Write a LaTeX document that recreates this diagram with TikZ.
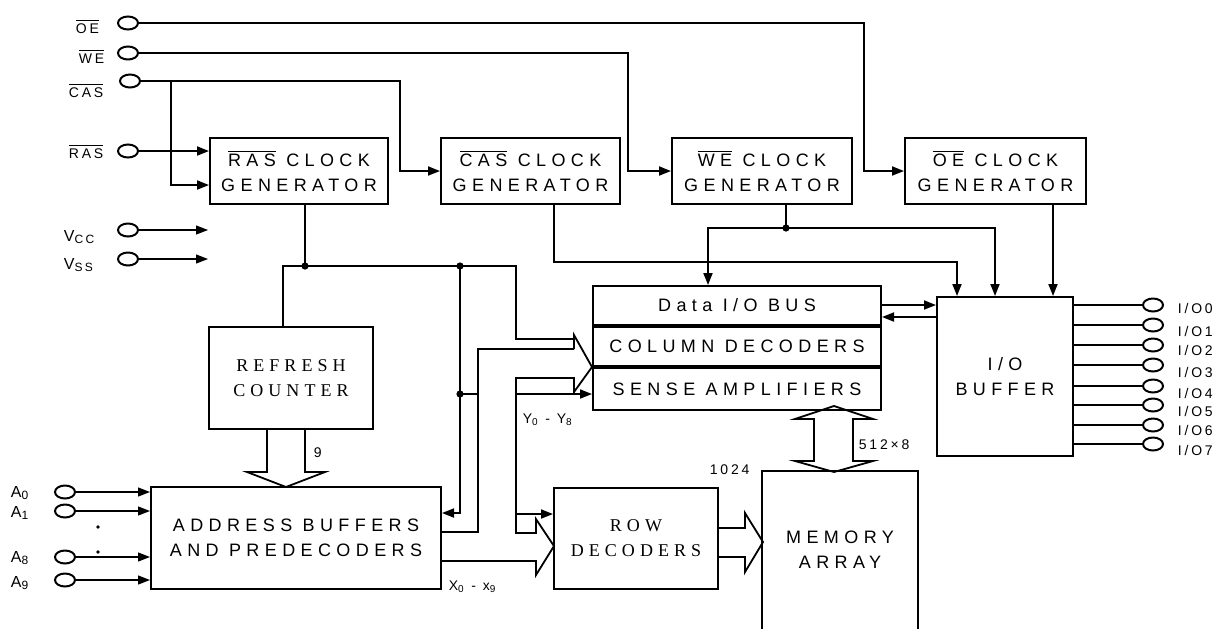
\documentclass[tikz,border=0pt]{standalone}
\usepackage{fontspec}
\setmainfont{Liberation Sans}
\newfontfamily\wide{Liberation Sans}[LetterSpace=30]
\newfontfamily\narrow{Liberation Sans}[LetterSpace=20]
\newfontfamily\wideserif{Liberation Serif}[LetterSpace=28]
\usetikzlibrary{arrows.meta,positioning,shapes.geometric}
\newcommand{\ovl}[1]{$\overline{\mbox{#1}}$}

\begin{document}
\begin{tikzpicture}[x=0.5pt,y=-0.5pt,line width=0.9pt,>={Triangle[length=6pt,width=4.5pt]}]
\tikzstyle{blk}=[draw,line width=1pt,inner sep=0,align=center,font=\wide\fontsize{9}{12.5}\selectfont]
\tikzstyle{rblk}=[blk,font=\wideserif\fontsize{9}{12.5}\selectfont]
\tikzstyle{term}=[draw,ellipse,line width=1pt,minimum width=10pt,minimum height=6.5pt,inner sep=0]
\tikzstyle{lbl}=[inner sep=0,font=\narrow\fontsize{7}{8}\selectfont]
\tikzstyle{plbl}=[inner sep=0,anchor=base west,font=\narrow\fontsize{8}{9}\selectfont]
\tikzstyle{sig}=[->,line width=0.6pt]
\useasboundingbox (0,0) rectangle (1221,628);
\node[blk,minimum width=89pt,minimum height=33pt] (ras) at (299,171) {\ovl{RAS} CLOCK\\GENERATOR};
\node[blk,minimum width=89.5pt,minimum height=33pt] (casg) at (530.5,171) {\ovl{CAS} CLOCK\\GENERATOR};
\node[blk,minimum width=90pt,minimum height=33pt] (weg) at (762,171) {\ovl{WE} CLOCK\\GENERATOR};
\node[blk,minimum width=90.5pt,minimum height=33pt] (oeg) at (995.5,171) {\ovl{OE} CLOCK\\GENERATOR};
\node[rblk,minimum width=82pt,minimum height=51pt] (rfc) at (291,378) {REFRESH\\COUNTER};
\node[blk,minimum width=145pt,minimum height=51pt] (adb) at (296,538) {ADDRESS BUFFERS\\AND PREDECODERS};
\node[rblk,minimum width=82pt,minimum height=50.5pt] (rowd) at (636,538.5) {ROW\\DECODERS};
\node[blk,minimum width=144pt,minimum height=19.5pt] (dbus) at (737,305.5) {Data I/O BUS};
\node[blk,minimum width=144pt,minimum height=19.5pt,below=0pt of dbus] (cold) {COLUMN DECODERS};
\node[blk,minimum width=144pt,minimum height=21pt,below=0pt of cold] (sam) {SENSE AMPLIFIERS};
\node[blk,minimum width=68pt,minimum height=79.5pt] (iob) at (1005,376.5) {I/O\\BUFFER};
\node[inner sep=0,align=center,minimum width=77pt,minimum height=78pt,font=\wide\fontsize{9}{12.5}\selectfont] (mem) at (840,550) {MEMORY\\ARRAY};
\draw[line width=1pt] (mem.south west) -- (mem.north west) -- (mem.north east) -- (mem.south east);

\node[term] (poe) at (128,23) {};
\node[term] (pwe) at (128,53) {};
\node[term] (pcas) at (130,81) {};
\node[term] (pras) at (128,151) {};
\node[term] (pvcc) at (128,230) {};
\node[term] (pvss) at (128,259) {};
\node[lbl,anchor=base west] (loe) at (75,33) {\ovl{OE}};
\node[lbl,anchor=base west] (lwe) at (78,63) {\ovl{WE}};
\node[lbl,anchor=base west] (lcas) at (68,97) {\ovl{CAS}};
\node[lbl,anchor=base west] (lras) at (68,158) {\ovl{RAS}};
\node[plbl] (lvcc) at (63,241) {V\textsubscript{CC}};
\node[plbl] (lvss) at (63,269) {V\textsubscript{SS}};
\foreach \n/\y/\ly in {0/492/497,1/511/517,8/557/562,9/580/587}{
  \node[term] (pa\n) at (65,\y) {};
  \node[plbl] (la\n) at (10,\ly) {A\textsubscript{\n}};
  \draw[sig] (pa\n) -- (pa\n-|adb.west);
}
\fill (98,527) circle (0.9pt) (98,552) circle (0.9pt);
\foreach \n/\y/\ly in {0/305/308,1/325/331,2/345/350,3/365/372,4/386/393,5/405/411,6/425/430,7/444/450}{
  \node[term] (pio\n) at (1153,\y) {};
  \node[lbl,anchor=west] (lio\n) at (1177,\ly) {I/O\n};
  \draw (iob.east|-pio\n) -- (pio\n);
}

\draw[->] (poe) -| (864,171) -- (oeg);
\draw[->] (pwe) -| (628,171) -- (weg);
\draw[->] (pcas) -| (400,171) -- (casg);
\draw[->] (171,81) |- ([yshift=-7pt]ras.west);
\draw[->] (pras) -- (pras-|ras.west);
\draw[sig] (pvcc) -- ++(80,0);
\draw[sig] (pvss) -- ++(80,0);

\coordinate (j1) at (305,266);
\coordinate (j2) at (460,266);
\coordinate (j3) at (460,394);
\coordinate (j4) at (786,228);
\draw (ras.south-|j1) -- (j1);
\draw ([xshift=-4pt]rfc.north) |- (j2) -| (516,339) -- (574,339);
\draw[->] (j2) |- (adb.east|-0,513);
\draw (j3) -- (478,394);
\draw (574,349) -| (478,532) -- (adb.east|-0,532);
\draw (574,349) -- (574,335) -- (cold.south west) -- (574,392) -- (574,378) -- (516,378) -- (516,533) -- (536,533) -- (536,519) -- (554,546) -- (536,575) -- (536,561) -- (adb.east|-0,561);
\draw[->] (516,394) -- (sam.west|-0,394);
\draw[->] (516,514) -- (rowd.west|-0,514);
\draw[->] (casg.south-|554,0) |- (957,262) -- (iob.north-|957,0);
\draw (weg.south-|j4) -- (j4);
\draw[->] (j4) -| (dbus.north-|708,0);
\draw[->] (j4) -| (iob.north-|995,0);
\draw[->] (oeg.south-|1053,0) -- (iob.north-|1053,0);
\draw[->] (dbus.east|-0,305) -- (iob.west|-0,305);
\draw[->] (iob.west|-0,317) -- (dbus.east|-0,317);
\foreach \j in {j1,j2,j3,j4} \fill (\j) circle (1.8pt);

\draw (rfc.south-|267,0) -- (267,472) -- (247,472) -- (286,487) -- (325,472) -- (305,472) -- (rfc.south-|305,0);
\draw (rowd.east|-0,528) -- (745,528) -- (745,513) -- (763,542) -- (745,572) -- (745,557) -- (rowd.east|-0,557);
\draw (814,419) -- (795,419) -- (834,406) -- (873,419) -- (853,419) -- (853,461) -- (873,461) -- (834,472) -- (795,461) -- (814,461) -- cycle;
\node[lbl,anchor=base west] (l9) at (313,457) {9};
\node[lbl,anchor=base west] (lw) at (858,449) {512×8};
\node[lbl,anchor=base west] (lr) at (709,474) {1024};
\node[lbl,anchor=base west] (ly) at (522,423) {Y\textsubscript{0} - Y\textsubscript{8}};
\node[lbl,anchor=base west] (lx) at (448,590) {X\textsubscript{0} - x\textsubscript{9}};
\end{tikzpicture}
\end{document}
